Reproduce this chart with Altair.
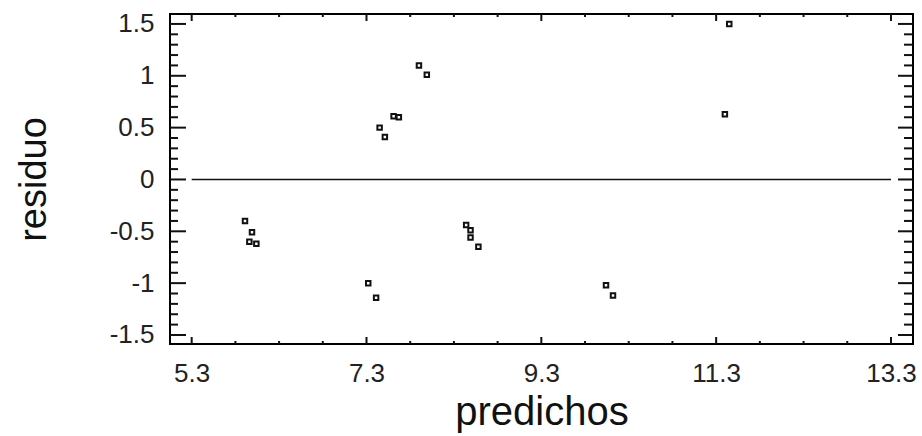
import altair as alt
import pandas as pd

# Residuals vs. predicted values
predichos = [7.90, 7.99, 7.61, 7.67, 7.45, 7.51,
             5.91, 5.99, 5.96, 6.04,
             7.32, 7.41,
             8.44, 8.49, 8.49, 8.58,
             11.45, 11.40,
             10.04, 10.12]
residuo = [1.10, 1.01, 0.61, 0.60, 0.50, 0.41,
           -0.40, -0.51, -0.60, -0.62,
           -1.00, -1.14,
           -0.44, -0.49, -0.56, -0.65,
           1.50, 0.63,
           -1.02, -1.12]

# Axis ticks
x_major = [5.3, 7.3, 9.3, 11.3, 13.3]
x_minor = [5.8, 6.3, 6.8, 7.8, 8.3, 8.8, 9.8, 10.3, 10.8, 11.8, 12.3, 12.8]
y_major = [-1.5, -1.0, -0.5, 0.0, 0.5, 1.0, 1.5]
y_minor = [round(i / 10, 1) for i in range(-14, 15) if i % 5 != 0]

# Reference line at zero residual
linea_cero = {"predichos": [5.3], "hasta": [13.3], "residuo": [0.0]}

W, H = 743, 330
X_DOM = [5.052, 13.552]
Y_DOM = [-1.587, 1.596]
FONT = "Liberation Sans"
INK = "#111111"

xs = alt.Scale(domain=X_DOM, nice=False, zero=False)
ys = alt.Scale(domain=Y_DOM, nice=False, zero=False)

eje_x = alt.Axis(
    values=x_major, ticks=False, domain=False, grid=False,
    labelExpr="'' + datum.value", labelFont=FONT, labelFontSize=26,
    labelColor="#222222", labelPadding=16,
    title="predichos", titleFont=FONT, titleFontSize=40,
    titleFontWeight="normal", titleColor=INK,
    titleBaseline="alphabetic", titleY=80)
eje_y = alt.Axis(
    values=y_major, ticks=False, domain=False, grid=False,
    labelExpr="'' + datum.value", labelFont=FONT, labelFontSize=26,
    labelColor="#222222", labelPadding=16,
    title="residuo", titleFont=FONT, titleFontSize=38,
    titleFontWeight="normal", titleColor=INK,
    titleBaseline="alphabetic", titleX=-125)

df = pd.DataFrame({"predichos": predichos, "residuo": residuo})

puntos = alt.Chart(df).mark_point(
    shape="square", size=20, filled=False, stroke=INK, strokeWidth=2, opacity=1
).encode(
    x=alt.X("predichos:Q", scale=xs, axis=eje_x),
    y=alt.Y("residuo:Q", scale=ys, axis=eje_y),
)

cero = alt.Chart(pd.DataFrame(linea_cero)).mark_rule(
    color=INK, strokeWidth=1.6
).encode(
    x=alt.X("predichos:Q", scale=xs, axis=eje_x),
    x2="hasta:Q",
    y=alt.Y("residuo:Q", scale=ys, axis=eje_y),
)


def ticks_y(valores, largo_izq, largo_der):
    base = alt.Chart(pd.DataFrame({"residuo": valores})).mark_rule(color=INK, strokeWidth=2)
    izq = base.encode(y=alt.Y("residuo:Q", scale=ys, axis=eje_y),
                      x=alt.value(0), x2=alt.value(largo_izq))
    der = base.encode(y=alt.Y("residuo:Q", scale=ys, axis=eje_y),
                      x=alt.value(W - largo_der), x2=alt.value(W))
    return [izq, der]


def ticks_x(valores, largo):
    base = alt.Chart(pd.DataFrame({"predichos": valores})).mark_rule(color=INK, strokeWidth=2)
    arriba = base.encode(x=alt.X("predichos:Q", scale=xs, axis=eje_x),
                         y=alt.value(0), y2=alt.value(largo))
    abajo = base.encode(x=alt.X("predichos:Q", scale=xs, axis=eje_x),
                        y=alt.value(H - largo), y2=alt.value(H))
    return [arriba, abajo]


capas = [puntos, cero]
capas += ticks_y(y_major, 16, 15)
capas += ticks_y(y_minor, 8, 9)
capas += ticks_x(x_major, 7)
capas += ticks_x(x_minor, 3)

chart = alt.layer(*capas).properties(
    width=W, height=H,
    autosize=alt.AutoSizeParams(type="none"),
    padding={"left": 170, "top": 14, "right": 9, "bottom": 92},
    background="white",
).configure_view(
    stroke="black", strokeWidth=2
)

chart.save("out.html", embed_options={"renderer": "svg", "actions": False})
